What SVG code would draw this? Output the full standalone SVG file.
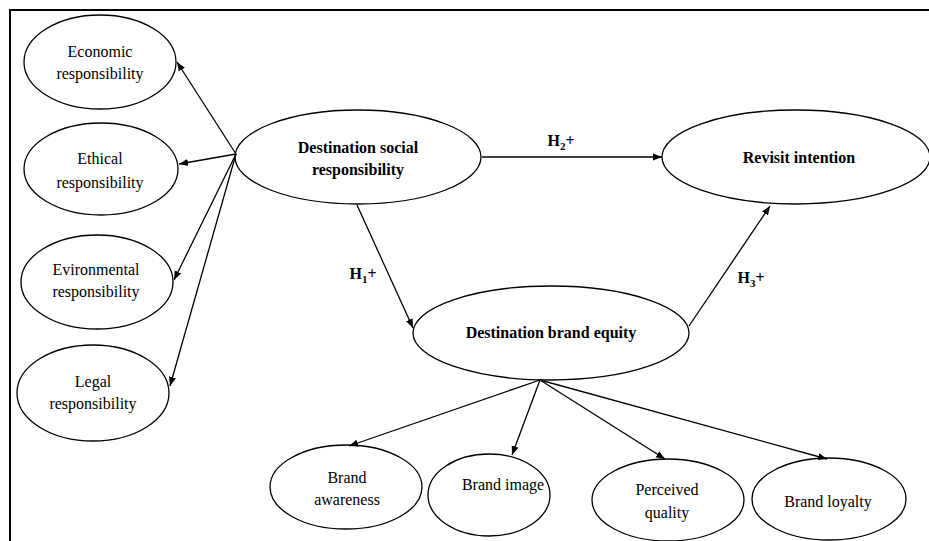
<svg xmlns="http://www.w3.org/2000/svg" width="929" height="541" viewBox="0 0 929 541">
<style>
.n ellipse{fill:#fff;stroke:#000;stroke-width:1.3}
text{font-family:"Liberation Serif","Times New Roman",serif;font-size:16px;fill:#000;text-anchor:middle}
.b{font-weight:bold}
.c line{stroke:#000;stroke-width:1.3;marker-end:url(#ah)}
.sub{font-size:11px}
</style>
<defs>
<marker id="ah" viewBox="0 0 10 10" refX="10" refY="5" markerWidth="9" markerHeight="9" markerUnits="userSpaceOnUse" orient="auto">
<path d="M0,1 L10,5 L0,9 Z" fill="#000"/>
</marker>
</defs>
<rect width="929" height="541" fill="#fff"/>
<path d="M929,10 H10 V541" fill="none" stroke="#000" stroke-width="2"/>
<g class="n" id="economic"><ellipse cx="100" cy="62" rx="76" ry="47"/><text x="100" y="57">Economic</text><text x="100" y="79">responsibility</text></g>
<g class="n" id="ethical"><ellipse cx="101" cy="169" rx="77" ry="46"/><text x="100" y="164">Ethical</text><text x="100" y="188">responsibility</text></g>
<g class="n" id="environmental"><ellipse cx="97" cy="282" rx="76" ry="47"/><text x="96" y="275">Evironmental</text><text x="96" y="297">responsibility</text></g>
<g class="n" id="legal"><ellipse cx="93" cy="393" rx="76" ry="48"/><text x="93" y="387">Legal</text><text x="93" y="409">responsibility</text></g>
<g class="n" id="dsr"><ellipse cx="358" cy="157" rx="123" ry="47"/><text class="b" x="358" y="153">Destination social</text><text class="b" x="358" y="175">responsibility</text></g>
<g class="n" id="revisit"><ellipse cx="796" cy="157" rx="134" ry="47"/><text class="b" x="799" y="163">Revisit intention</text></g>
<g class="n" id="dbe"><ellipse cx="551" cy="333" rx="138" ry="47"/><text class="b" x="551" y="338">Destination brand equity</text></g>
<g class="n" id="awareness"><ellipse cx="346" cy="487" rx="76" ry="42"/><text x="347" y="483">Brand</text><text x="347" y="505">awareness</text></g>
<g class="n" id="image"><ellipse cx="489" cy="495" rx="61" ry="41"/><text x="503" y="490">Brand image</text></g>
<g class="n" id="quality"><ellipse cx="668" cy="500" rx="76" ry="41"/><text x="667" y="495">Perceived</text><text x="667" y="518">quality</text></g>
<g class="n" id="loyalty"><ellipse cx="829" cy="499" rx="77" ry="41"/><text x="828" y="507">Brand loyalty</text></g>
<g class="c" id="connectors">
<line x1="236" y1="154" x2="177" y2="62"/>
<line x1="236" y1="154" x2="179" y2="164"/>
<line x1="236" y1="154" x2="174" y2="280"/>
<line x1="236" y1="154" x2="170" y2="386"/>
<line x1="482" y1="157" x2="662" y2="157"/>
<line x1="357" y1="205" x2="413" y2="328"/>
<line x1="689" y1="326" x2="770" y2="206"/>
<line x1="540" y1="380" x2="349" y2="446"/>
<line x1="540" y1="380" x2="512" y2="455"/>
<line x1="540" y1="380" x2="665" y2="459"/>
<line x1="540" y1="380" x2="827" y2="459"/>
</g>
<g id="labels">
<text class="b" x="561" y="146">H<tspan class="sub" dy="4">2</tspan><tspan dy="-4">+</tspan></text>
<text class="b" x="363" y="279">H<tspan class="sub" dy="4">1</tspan><tspan dy="-4">+</tspan></text>
<text class="b" x="751" y="283">H<tspan class="sub" dy="4">3</tspan><tspan dy="-4">+</tspan></text>
</g>
</svg>
